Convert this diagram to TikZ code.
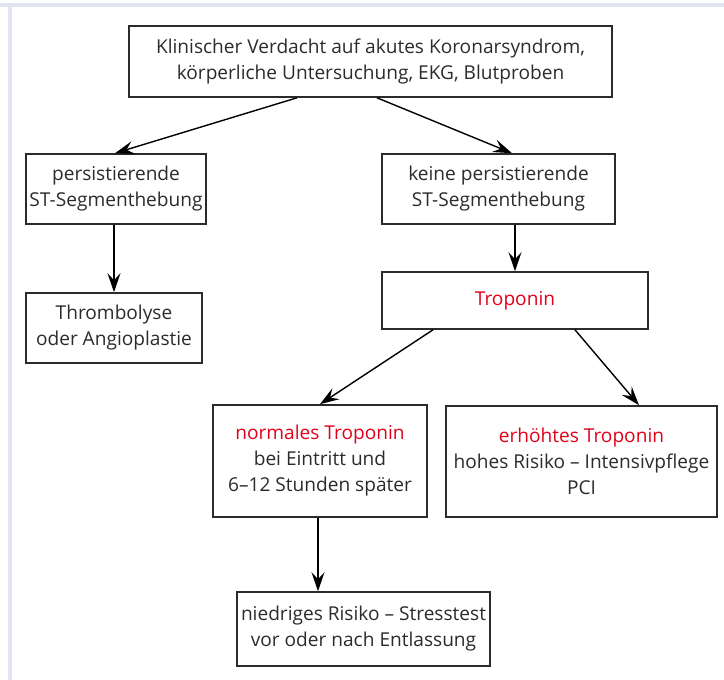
\documentclass[tikz,border=0pt]{standalone}
\usepackage{fontspec}
\setmainfont{Open Sans}
\usetikzlibrary{arrows.meta,positioning}
\definecolor{frame}{HTML}{E1E4F3}
\definecolor{hired}{HTML}{E2001A}
\definecolor{ink}{HTML}{2B2B2B}
\tikzset{
    box/.style={
        draw=ink, line width=0.8pt, text=ink,
        align=center, inner sep=0pt,
        font=\fontsize{9.55}{13}\selectfont
    },
    arr/.style={
        -{Stealth[length=9.5pt, width=6.5pt, inset=3.5pt]}, line width=0.7pt, draw=black
    }
}
\begin{document}
\begin{tikzpicture}[x=0.5pt, y=-0.5pt]

% Frame
\useasboundingbox (0,0) rectangle (724,680);
\fill[frame] (0,3) rectangle (724,6.5);
\fill[frame] (8,3) rectangle (11.5,680);

% Boxes
\node[box, minimum width=241.5pt, minimum height=35.5pt] (start) at (370.5,61.5)
    {Klinischer Verdacht auf akutes Koronarsyndrom,\\körperliche Untersuchung, EKG, Blutproben};
\node[box, minimum width=90pt, minimum height=35pt] (st) at (116,189)
    {persistierende\\ST-Segmenthebung};
\node[box, minimum width=116.5pt, minimum height=35pt] (nost) at (498.5,189)
    {keine persistierende\\ST-Segmenthebung};
\node[box, minimum width=88pt, minimum height=35pt] (lyse) at (114,328)
    {Thrombolyse\\oder Angioplastie};
\node[box, minimum width=133pt, minimum height=28.5pt] (trop) at (515,300.5)
    {\textcolor{hired}{Troponin}};
\node[box, minimum width=107pt, minimum height=56pt] (norm) at (320,461)
    {\textcolor{hired}{normales Troponin}\\bei Eintritt und\\6--12 Stunden später};
\node[box, minimum width=135.5pt, minimum height=55.5pt] (high) at (581.5,461.5)
    {\textcolor{hired}{erhöhtes Troponin}\\hohes Risiko -- Intensivpflege\\PCI};
\node[box, minimum width=126.5pt, minimum height=37pt] (low) at (363.5,629)
    {niedriges Risiko -- Stresstest\\vor oder nach Entlassung};

% Arrows
\draw[arr] (start.south -| 297,0) -- (st.north -| 115,0);
\draw[arr] (start.south -| 377,0) -- (nost.north -| 512,0);
\draw[arr] (st.south -| 114,0) -- (lyse.north -| 114,0);
\draw[arr] (nost.south -| 515,0) -- (trop.north -| 515,0);
\draw[arr] (trop.south -| 433,0) -- (norm.north -| 320,0);
\draw[arr] (trop.south -| 575,0) -- (high.north -| 639,0);
\draw[arr] (norm.south -| 318,0) -- (low.north -| 318,0);

\end{tikzpicture}
\end{document}
